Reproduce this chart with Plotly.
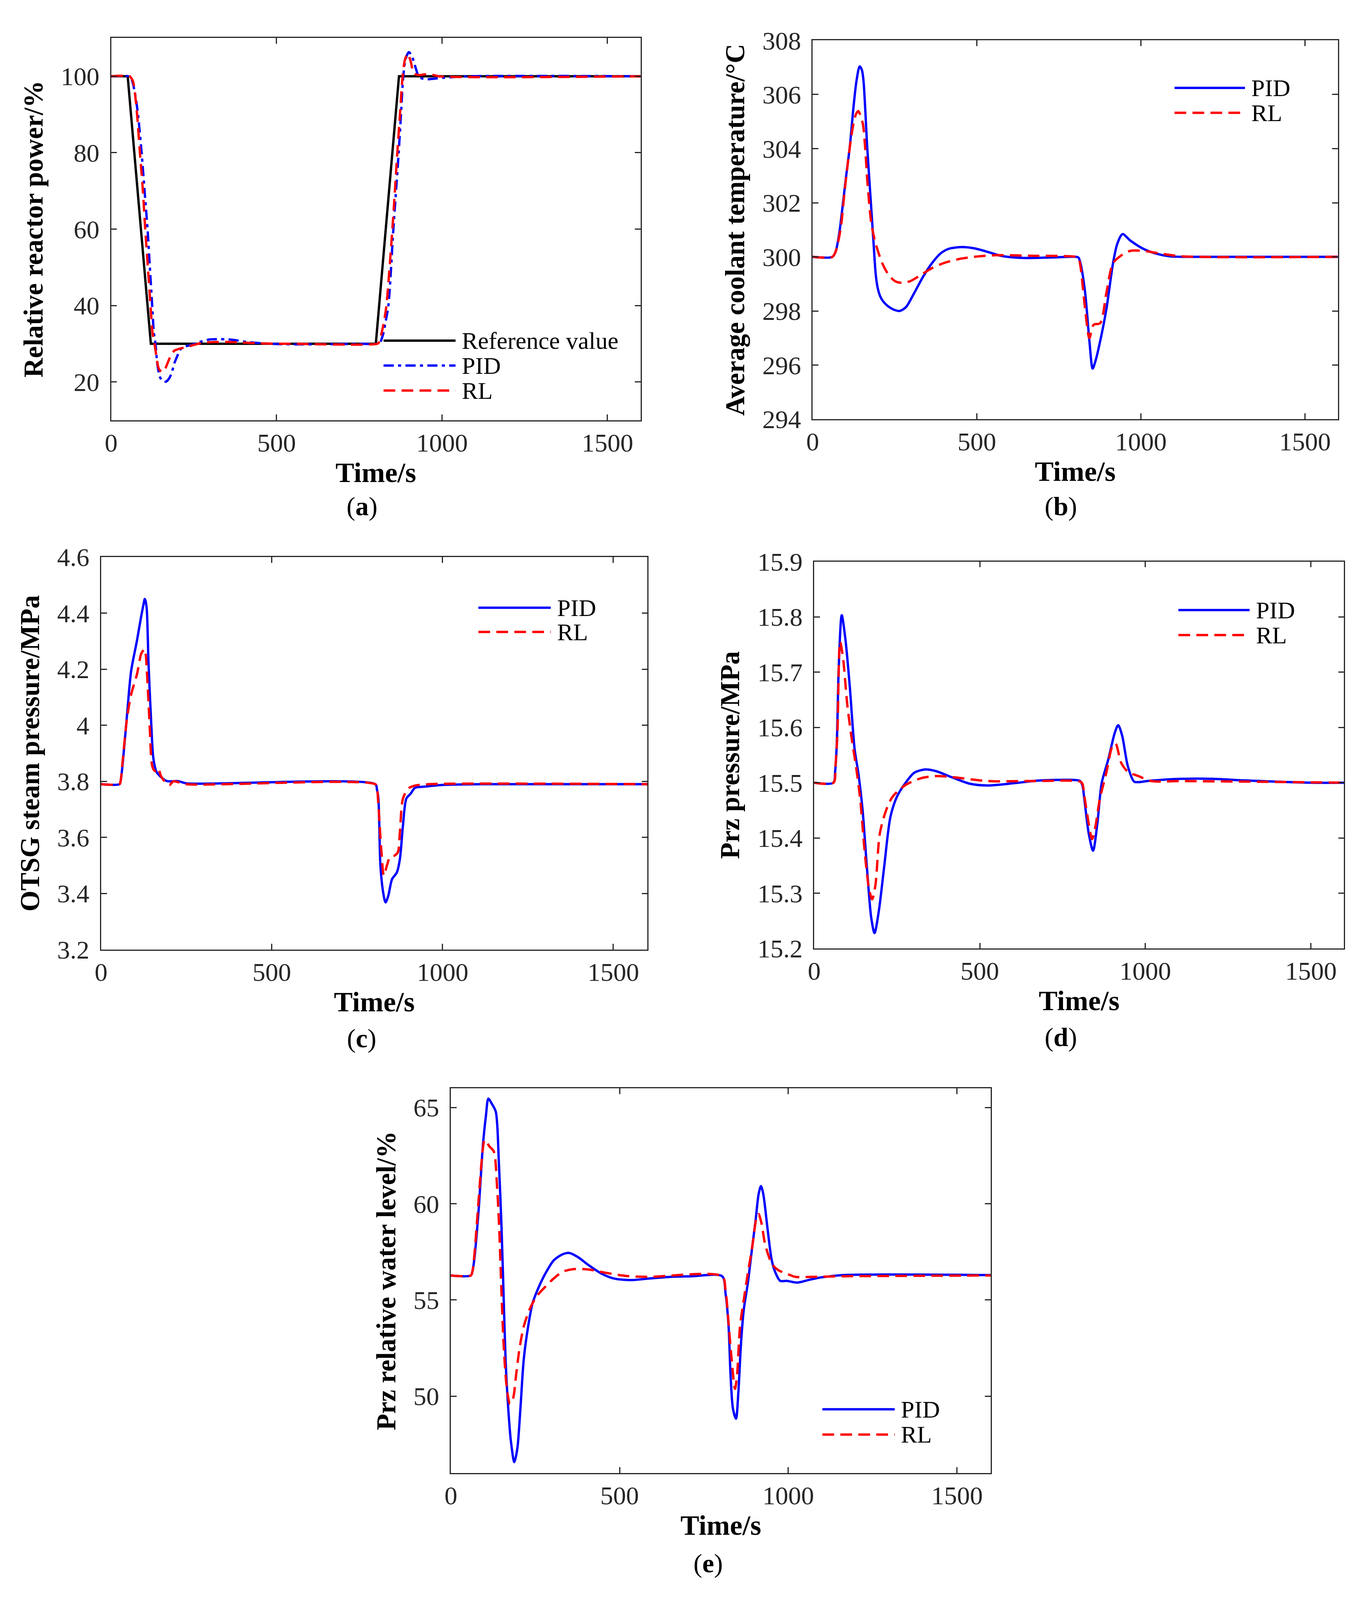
import plotly.graph_objects as go

# layout is measured on a 3489 x 4583 sheet; the browser shows 3489 x 4096,
# so the figure is drawn to fit that view and all positions are kept as fractions
REF_W, REF_H = 3489, 4583
W, H = 3473, 4080
SY = H / REF_H

# (a) relative reactor power
a_t_ref = [0, 50, 120, 800, 870, 1600]
a_ref = [100, 100, 30, 30, 100, 100]
a_t_pid = [0, 52, 58, 64, 74, 82, 92, 101, 110, 117, 124, 129, 134, 140, 148, 156, 166, 175, 183, 191,
           199, 207, 213, 222, 234, 253, 273, 296, 320, 351, 370, 409, 468, 550, 650, 760, 805, 812, 822, 830,
           838, 853, 869, 876, 883, 890, 900, 910, 920, 930, 940, 949, 970, 1003, 1040, 1080, 1600]
a_pid = [100, 100, 99.7, 98.7, 94.5, 89.3, 80, 70, 60, 50, 40, 33, 30, 24.4, 21.2, 20.2, 20.1, 20.9, 22.4, 24.9,
         26.6, 28.2, 28.9, 29.3, 29.5, 30.05, 30.6, 31.1, 31.2, 31.15, 31.0, 30.5, 30.05, 29.85, 29.9, 29.97, 30, 30.2, 32.5, 36,
         40, 60, 80, 90, 100, 104.5, 106.3, 105, 102.3, 99.9, 99.4, 99.2, 99.3, 99.6, 99.8, 100, 100]
a_t_rl = [0, 56, 60, 66, 76, 87, 96, 103, 111, 119, 125, 131, 137, 144, 154, 162, 168, 176, 183, 193,
          203, 220, 242, 273, 312, 351, 390, 468, 540, 805, 809, 818, 826, 832, 850, 865, 873, 881, 888, 896,
          905, 915, 930, 950, 970, 990, 1600]
a_rl = [100, 100, 99.6, 98.7, 92.3, 80, 70, 60, 50, 40, 32.9, 30, 26.6, 23.5, 22.6, 23.2, 24.4, 26.1, 27.5, 28.3,
        28.6, 29.0, 29.5, 30.2, 30.45, 30.45, 30.35, 30.05, 30, 30, 30.3, 33, 36.5, 40, 60, 80, 90, 100, 104.3, 105.9,
        104, 100.8, 100.3, 100.5, 100.4, 100, 100]

# (b) average coolant temperature
b_t_pid = [0, 60, 70, 80, 87, 100, 113, 124, 133, 143, 150, 155, 166, 179, 186, 192, 198, 205, 212, 225,
           245, 265, 284, 310, 337, 363, 389, 415, 455, 494, 534, 573, 639, 731, 803, 810, 816, 830, 843, 853,
           862, 876, 895, 915, 928, 944, 968, 1007, 1046, 1086, 1138, 1600]
b_pid = [300, 300, 300.2, 300.8, 301.44, 302.8, 304.07, 305.5, 306.47, 307.04, 306.9, 306.47, 304.07, 301.68, 300.4, 299.35, 298.85, 298.56, 298.4, 298.22,
         298.06, 298.0, 298.14, 298.68, 299.28, 299.76, 300.12, 300.3, 300.36, 300.31, 300.18, 300.04, 299.96, 299.98, 300, 299.97, 299.76, 298.68, 296.9, 295.87,
         296.17, 296.89, 298.08, 299.76, 300.48, 300.84, 300.6, 300.3, 300.12, 300.02, 300, 300]
b_t_rl = [0, 60, 70, 80, 87, 97, 107, 117, 126, 133, 139, 146, 153, 160, 166, 172, 179, 192, 212, 231,
          251, 271, 297, 323, 363, 402, 455, 507, 560, 665, 803, 810, 816, 830, 843, 856, 876, 895, 915, 941,
          968, 1007, 1060, 1125, 1600]
b_rl = [300, 300, 300.2, 300.7, 301.2, 302.4, 303.47, 304.4, 305.03, 305.3, 305.39, 305.2, 304.9, 304.0, 302.87, 302.0, 301.2, 300.48, 299.76, 299.34,
        299.1, 299.04, 299.1, 299.28, 299.58, 299.78, 299.94, 300.02, 300.06, 300.04, 300, 299.95, 299.64, 298.08, 297.0, 297.49, 297.55, 298.68, 299.76, 300.06,
        300.22, 300.22, 300.12, 300.02, 300]

# (c) OTSG steam pressure
c_t_pid = [0, 54, 57, 63, 76, 88, 105, 117, 124, 128, 131, 134, 139, 147, 153, 162, 174, 193, 225, 250,
           803, 808, 812, 818, 826, 833, 841, 852, 866, 875, 884, 894, 907, 919, 944, 995, 1120, 1600]
c_pid = [3.79, 3.79, 3.80, 3.86, 4.038, 4.194, 4.302, 4.386, 4.43, 4.451, 4.44, 4.41, 4.218, 4.002, 3.883, 3.835, 3.817, 3.801, 3.801, 3.793,
         3.79, 3.77, 3.739, 3.5, 3.404, 3.368, 3.392, 3.451, 3.475, 3.523, 3.643, 3.739, 3.757, 3.777, 3.781, 3.787, 3.79, 3.79]
c_t_rl = [0, 54, 57, 63, 76, 88, 105, 117, 122, 127, 131, 134, 139, 143, 149, 155, 162, 168, 175, 187,
          200, 212, 250, 803, 808, 812, 816, 821, 828, 837, 846, 859, 869, 875, 884, 900, 919, 960, 1600]
c_rl = [3.79, 3.79, 3.80, 3.871, 4.026, 4.11, 4.182, 4.254, 4.265, 4.272, 4.25, 4.194, 4.08, 3.978, 3.859, 3.84, 3.835, 3.845, 3.82, 3.799,
        3.787, 3.8, 3.79, 3.79, 3.775, 3.715, 3.64, 3.547, 3.464, 3.5, 3.53, 3.535, 3.547, 3.619, 3.739, 3.775, 3.785, 3.79, 3.79]

# (d) Prz pressure
d_t_pid = [0, 58, 63, 68, 74, 83, 94, 107, 122, 133, 146, 159, 172, 182, 195, 211, 230, 250, 276, 302,
           335, 367, 419, 471, 523, 602, 680, 784, 803, 810, 816, 829, 842, 855, 868, 888, 908, 918, 930, 947,
           966, 979, 1005, 1044, 1109, 1200, 1305, 1500, 1600]
d_pid = [15.5, 15.5, 15.52, 15.57, 15.71, 15.803, 15.76, 15.676, 15.56, 15.518, 15.45, 15.347, 15.256, 15.228, 15.268, 15.347, 15.438, 15.475, 15.5, 15.518,
         15.524, 15.521, 15.509, 15.498, 15.495, 15.499, 15.504, 15.505, 15.503, 15.495, 15.469, 15.408, 15.377, 15.426, 15.499, 15.542, 15.591, 15.604, 15.585, 15.53,
         15.502, 15.501, 15.503, 15.505, 15.507, 15.507, 15.504, 15.5, 15.5]
d_t_rl = [0, 58, 64, 70, 78, 87, 100, 113, 126, 139, 152, 165, 175, 185, 198, 217, 237, 276, 322, 367,
          419, 523, 654, 803, 810, 816, 829, 839, 849, 862, 882, 901, 910, 927, 947, 979, 1018, 1109, 1600]
d_rl = [15.5, 15.5, 15.53, 15.59, 15.755, 15.725, 15.64, 15.58, 15.53, 15.469, 15.377, 15.31, 15.289, 15.316, 15.408, 15.45, 15.475, 15.496, 15.508, 15.512,
        15.51, 15.503, 15.503, 15.502, 15.498, 15.475, 15.426, 15.398, 15.42, 15.469, 15.518, 15.567, 15.571, 15.536, 15.52, 15.512, 15.503, 15.503, 15.5]

# (e) Prz relative water level
e_t_pid = [0, 59, 64, 69, 82, 95, 104, 111, 121, 133, 142, 150, 156, 162, 170, 178, 188, 197, 206, 216,
           229, 242, 261, 280, 305, 331, 350, 376, 408, 446, 484, 535, 586, 650, 714, 804, 814, 823, 829, 836,
           845, 852, 860, 868, 880, 893, 903, 912, 919, 926, 938, 951, 963, 976, 995, 1027, 1059, 1097, 1161, 1600]
e_pid = [56.27, 56.27, 56.5, 57.06, 59.63, 63.06, 64.6, 65.46, 65.2, 64.78, 62.2, 58.78, 55.35, 51.92, 49.35, 47.63, 46.57, 47.29, 49.35, 51.92,
         53.63, 54.83, 55.69, 56.37, 57.06, 57.37, 57.44, 57.23, 56.81, 56.37, 56.11, 56.03, 56.11, 56.2, 56.23, 56.23, 55.35, 53.63, 51.06, 49.35,
         48.83, 50.2, 52.78, 54.49, 55.86, 57.74, 59.12, 60.49, 60.92, 60.49, 58.78, 57.06, 56.37, 55.99, 55.99, 55.9, 56.03, 56.17, 56.29, 56.29]
e_t_rl = [0, 59, 64, 69, 82, 91, 98, 101, 114, 127, 137, 143, 150, 156, 165, 175, 184, 193, 203, 216,
          235, 254, 280, 305, 331, 363, 408, 459, 523, 586, 804, 814, 823, 832, 842, 848, 857, 868, 880, 893,
          906, 912, 921, 931, 951, 970, 995, 1021, 1072, 1161, 1600]
e_rl = [56.27, 56.27, 56.5, 57.23, 60.15, 62.2, 63.23, 63.32, 62.98, 62.72, 60.83, 58.78, 55.35, 52.78, 50.55, 49.6, 49.86, 51.06, 52.43, 53.63,
        54.58, 55.18, 55.69, 56.12, 56.46, 56.6, 56.58, 56.41, 56.24, 56.2, 56.23, 55.52, 53.8, 51.92, 50.38, 51.06, 53.63, 55.0, 56.37, 57.74,
        59.29, 59.46, 58.95, 57.92, 56.89, 56.55, 56.37, 56.2, 56.2, 56.23, 56.27]

x_ticks = [0, 500, 1000, 1500]

FONT = "Liberation Serif"
INK = "#262626"
BLUE = "#0000ff"
RED = "#ff0000"
LW = 6
DASH = "30px,16px"
DASHDOT = "26px,11px,8px,11px"

# panel boxes on the reference sheet: left, top, right, bottom
panels = [
    dict(box=(262, 61, 1630, 1180), yrange=[10, 110], dtick=20, title="Relative reactor power/%",
         series=[(a_t_ref, a_ref, "black", "solid", "Reference value"),
                 (a_t_pid, a_pid, BLUE, DASHDOT, "PID"),
                 (a_t_rl, a_rl, RED, DASH, "RL")],
         legend=(966, 1152, [947, 1020, 1093])),
    dict(box=(2075, 68, 3432, 1177), yrange=[294, 308], dtick=2, title="Average coolant temperature/°C",
         series=[(b_t_pid, b_pid, BLUE, "solid", "PID"), (b_t_rl, b_rl, RED, DASH, "RL")],
         legend=(3010, 3192, [207, 280])),
    dict(box=(236, 1581, 1648, 2730), yrange=[3.2, 4.6], dtick=0.2, title="OTSG steam pressure/MPa",
         series=[(c_t_pid, c_pid, BLUE, "solid", "PID"), (c_t_rl, c_rl, RED, DASH, "RL")],
         legend=(1211, 1398, [1729, 1800])),
    dict(box=(2079, 1594, 3448, 2727), yrange=[15.2, 15.9], dtick=0.1, title="Prz pressure/MPa",
         series=[(d_t_pid, d_pid, BLUE, "solid", "PID"), (d_t_rl, d_rl, RED, DASH, "RL")],
         legend=(3020, 3204, [1736, 1809])),
    dict(box=(1140, 3136, 2535, 4263), yrange=[46, 66], dtick=5, title="Prz relative water level/%",
         series=[(e_t_pid, e_pid, BLUE, "solid", "PID"), (e_t_rl, e_rl, RED, DASH, "RL")],
         legend=(2100, 2287, [4076, 4150])),
]

fig = go.Figure()
shapes = []
annotations = []

for i, p in enumerate(panels):
    n = "" if i == 0 else str(i + 1)
    l, t, r, b = p["box"]
    for tx, vy, col, dash, name in p["series"]:
        fig.add_trace(go.Scatter(
            x=tx, y=vy, mode="lines", name=name, showlegend=False,
            xaxis="x" + n, yaxis="y" + n,
            line=dict(color=col, width=LW, dash=dash,
                      shape="linear" if col == "black" else "spline", smoothing=0.8)))

    axis_common = dict(showline=True, linecolor=INK, linewidth=2.5, mirror="ticks",
                       ticks="inside", ticklen=15, tickwidth=2.5, tickcolor=INK,
                       showgrid=False, zeroline=False,
                       tickfont=dict(family=FONT, size=66, color=INK))
    fig.layout["xaxis" + n] = dict(
        axis_common, domain=[l / REF_W, r / REF_W], anchor="y" + n, range=[0, 1600],
        tickvals=x_ticks, ticklabelstandoff=-2,
        title=dict(text="Time/s", standoff=15,
                   font=dict(family=FONT, size=72, color="black", weight="bold")))
    fig.layout["yaxis" + n] = dict(
        axis_common, domain=[1 - b / REF_H, 1 - t / REF_H], anchor="x" + n, range=p["yrange"],
        tick0=0, dtick=p["dtick"], ticklabelstandoff=14,
        title=dict(text=p["title"], standoff=24,
                   font=dict(family=FONT, size=69, color="black", weight="bold")))

    # legend drawn inside the axes like the original
    x0, x1, ys = p["legend"]
    for (tx, vy, col, dash, name), yy in zip(p["series"], ys):
        yd = (b - yy) / (b - t)
        shapes.append(dict(type="line", xref="x" + n + " domain", yref="y" + n + " domain",
                           x0=(x0 - l) / (r - l), x1=(x1 - l) / (r - l), y0=yd, y1=yd,
                           line=dict(color=col, width=LW, dash=dash)))
        annotations.append(dict(text=name, xref="x" + n + " domain", yref="y" + n + " domain",
                                x=(x1 + 14 - l) / (r - l), y=yd, xanchor="left", yanchor="middle",
                                showarrow=False, font=dict(family=FONT, size=62, color="black")))

# panel captions
captions = [("a", 910, 1432), ("b", 2716, 1432), ("c", 910, 2990), ("d", 2716, 2986), ("e", 1805, 4527)]
for tag, cx, cy in captions:
    annotations.append(dict(text="(<b>" + tag + "</b>)", xref="paper", yref="paper",
                            x=cx / REF_W, y=1 - cy / REF_H, xanchor="center", yanchor="middle",
                            showarrow=False, font=dict(family=FONT, size=68, color="black")))

fig.update_layout(width=W, height=H, autosize=False,
                  margin=dict(l=0, r=0, t=0, b=0, pad=0),
                  paper_bgcolor="white", plot_bgcolor="white",
                  shapes=shapes, annotations=annotations)

fig.write_html("out.html")
